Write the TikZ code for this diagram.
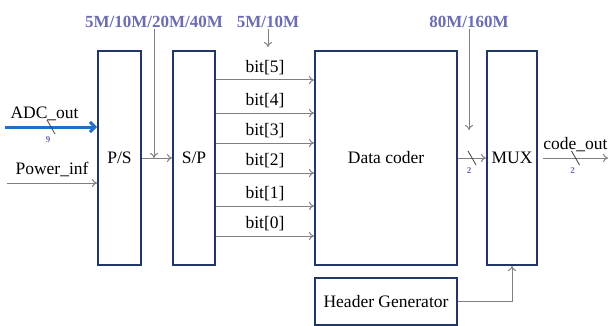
\documentclass[tikz,border=0pt]{standalone}
\usepackage{fontspec}
\setmainfont{Liberation Serif}
\usetikzlibrary{arrows.meta}
\definecolor{boxnavy}{RGB}{31,56,104}
\definecolor{siggray}{RGB}{128,128,128}
\definecolor{adcblue}{RGB}{31,112,200}
\definecolor{freqblue}{RGB}{108,108,178}
\tikzset{
  pics/busmark/.style={code={
    \draw[draw=darkgray, line width=0.8pt] (-4,-7) -- (4,7);
    \node[buslbl] at (-3,13) {#1};
  }}
}
\begin{document}
\begin{tikzpicture}[x=1pt,y=-1pt,
    font=\fontsize{17.5}{20}\selectfont,
    blk/.style={draw=boxnavy, line width=2pt, fill=white, inner sep=0pt},
    sig/.style={draw=siggray, line width=1pt, -{To[length=5pt,width=8pt]}},
    adc/.style={draw=adcblue, line width=3pt, -{Straight Barb[length=5pt,width=10pt]}},
    freq/.style={text=freqblue, font=\fontsize{17}{20}\selectfont\bfseries, inner sep=1pt},
    buslbl/.style={text=freqblue, font=\fontsize{9}{10}\selectfont\bfseries, inner sep=0pt}]
    \useasboundingbox (0,0) rectangle (612,326);
    \node [blk, minimum width=43pt, minimum height=214pt] (ps) at (119.5,158) {P/S};
    \node [blk, minimum width=42pt, minimum height=214pt] (sp) at (194,158) {S/P};
    \node [blk, minimum width=142pt, minimum height=214pt] (dc) at (386,158) {Data coder};
    \node [blk, minimum width=50pt, minimum height=214pt] (mux) at (512,158) {MUX};
    \node [blk, minimum width=142pt, minimum height=47pt] (hg) at (386,301.5) {Header Generator};
    \coordinate (adcin) at (5,127);
    \draw [adc] (adcin) -- node [pos=0.43, above=1pt, text=black] {ADC\_out} (adcin -| ps.west);
    \path (adcin) -- (adcin -| ps.west) coordinate [pos=0.5] (bus0);
    \draw (bus0) pic {busmark=9};
    \coordinate (pwrin) at (7,183);
    \draw [sig] (pwrin) -- node [above=2pt] {Power\_inf} (pwrin -| ps.west);
    \draw [sig] (ps.east) -- (sp.west);
    \coordinate (clk1) at (154,29);
    \draw [sig] (clk1) node [freq, above] {5M/10M/20M/40M} -- (clk1 |- ps.east);
    \coordinate (clk2) at (268,29);
    \coordinate (clk2e) at (268,47);
    \draw [sig] (clk2) node [freq, above] {5M/10M} -- (clk2e);
    \foreach \i/\y in {5/80,4/113,3/143,2/173,1/206,0/236}
        \draw [sig] (sp.east |- 0,\y) -- node [above=1pt] {bit[\i]} (dc.west |- 0,\y);
    \draw [sig] (dc.east) -- coordinate [pos=0.5] (bus1) (mux.west);
    \draw (bus1) pic {busmark=2};
    \coordinate (clk3) at (469,29);
    \coordinate (clk3e) at (469,130);
    \draw [sig] (clk3) node [freq, above] {80M/160M} -- (clk3e);
    \coordinate (codeout) at (608,158);
    \draw [sig] ([xshift=5pt]mux.east) -- coordinate [pos=0.5] (bus2) node [above=2pt] {code\_out} (codeout);
    \draw (bus2) pic {busmark=2};
    \draw [sig] (hg.east) -| (mux.south);
\end{tikzpicture}
\end{document}
